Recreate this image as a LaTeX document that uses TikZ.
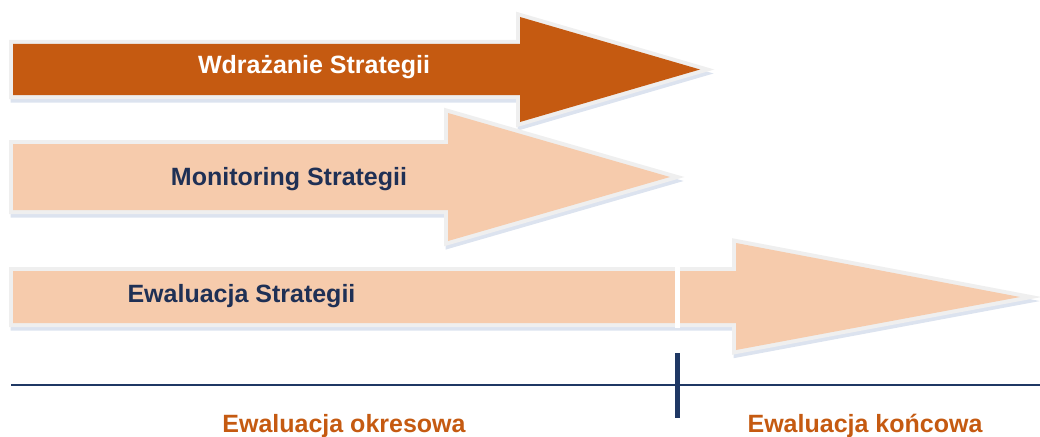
\documentclass[tikz,border=0pt]{standalone}
\usepackage{fontspec}
\setmainfont{Liberation Sans}
\definecolor{darkor}{HTML}{C55A11}
\definecolor{peach}{HTML}{F6CBAC}
\definecolor{navy}{HTML}{1F3055}
\definecolor{linenavy}{HTML}{1F3864}
\definecolor{rim}{HTML}{EFEFEF}
\definecolor{shade}{HTML}{DCE3EF}
\tikzset{
  shadowpath/.style={draw=shade, line width=7pt, line join=miter, fill=shade},
  rimpath/.style={draw=rim, line width=8pt, line join=miter},
  lbl/.style={font=\fontsize{25}{30}\selectfont\bfseries, inner sep=0pt, anchor=base},
}
\begin{document}
\begin{tikzpicture}[x=1pt,y=-1pt]
\useasboundingbox (0,0) rectangle (1040,436);
% Arrow 1
\def\arrA{(13,44) -- (520,44) -- (520,17) -- (700,69.5) -- (520,122) -- (520,95) -- (13,95) -- cycle}
\begin{scope}[shift={(1,4)}]\draw[shadowpath] \arrA;\end{scope}
\draw[rimpath] \arrA;
\fill[darkor] \arrA;
% Arrow 2
\def\arrB{(13,144) -- (448,144) -- (448,113) -- (670,177) -- (448,241) -- (448,210) -- (13,210) -- cycle}
\begin{scope}[shift={(1,4)}]\draw[shadowpath] \arrB;\end{scope}
\draw[rimpath] \arrB;
\fill[peach] \arrB;
% Arrow 3
\def\arrC{(13,271) -- (736,271) -- (736,243) -- (1020,297) -- (736,350) -- (736,323) -- (13,323) -- cycle}
\begin{scope}[shift={(1,4)}]\draw[shadowpath] \arrC;\end{scope}
\draw[rimpath] \arrC;
\fill[peach] \arrC;
\fill[white] (675,266) rectangle (680,328);
% texts
\node[lbl, text=white] (wdr) at (314,74) {Wdrażanie Strategii};
\node[lbl, text=navy] (mon) at (289,185) {Monitoring Strategii};
\node[lbl, text=navy] (ewa) at (241.5,302) {Ewaluacja Strategii};
% timeline
\coordinate (tl) at (11,385);
\coordinate (tr) at (1040,385);
\coordinate (tt) at (677.5,353);
\coordinate (tb) at (677.5,418);
\draw[linenavy, line width=2.6pt] (tl) -- (tr);
\draw[linenavy, line width=5.5pt] (tt) -- (tb);
\node[lbl, text=darkor] (okr) at (344,432) {Ewaluacja okresowa};
\node[lbl, text=darkor] (kon) at (865,432) {Ewaluacja końcowa};
\end{tikzpicture}
\end{document}
